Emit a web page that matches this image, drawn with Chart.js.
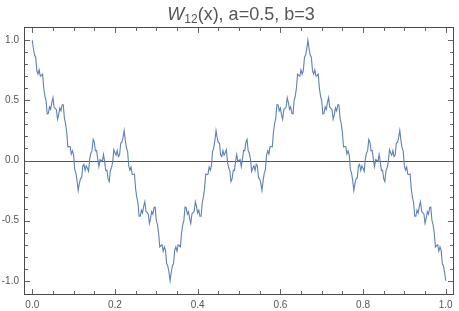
<!DOCTYPE html>
<html>

<head>
    <script src="https://cdn.jsdelivr.net/npm/chart.js@4.4.2/dist/chart.umd.min.js"></script>
    <style>
        html, body { margin: 0; padding: 0; background: #fff; }
    </style>
</head>

<body>
    <div style="position:relative; width:459px; height:311px">
        <canvas id="chart"></canvas>
    </div>
</body>
<script>
    // W12(x), 361 samples from x=0 to x=1, split in thirds
    const firstThird = [
        1.000, 0.929, 0.877, 0.857, 0.746, 0.719, 0.755, 0.702, 0.707, 0.718,
        0.601, 0.536, 0.498, 0.388, 0.392, 0.446, 0.425, 0.481, 0.522, 0.444,
        0.433, 0.422, 0.343, 0.382, 0.436, 0.413, 0.464, 0.464, 0.349, 0.306,
        0.236, 0.112, 0.116, 0.114, 0.054, 0.081, 0.045, -0.076, -0.105, -0.167,
        -0.250, -0.190, -0.150, -0.144, -0.046, -0.032, -0.082, -0.044, -0.064, -0.090,
        0.012, 0.060, 0.082, 0.175, 0.153, 0.081, 0.084, 0.009, -0.050, 0.008,
        0.000, -0.008, 0.050, -0.009, -0.084, -0.081, -0.153, -0.175, -0.082, -0.060,
        -0.012, 0.090, 0.064, 0.044, 0.082, 0.032, 0.046, 0.144, 0.150, 0.190,
        0.250, 0.167, 0.105, 0.076, -0.045, -0.081, -0.054, -0.114, -0.116, -0.112,
        -0.236, -0.306, -0.349, -0.464, -0.464, -0.413, -0.436, -0.382, -0.343, -0.422,
        -0.433, -0.444, -0.522, -0.481, -0.425, -0.446, -0.392, -0.388, -0.498, -0.536,
        -0.601, -0.718, -0.707, -0.702, -0.755, -0.719, -0.746, -0.857, -0.877, -0.929,
        -1.000
    ];
    const middleThird = [
        -0.929, -0.877, -0.857, -0.746, -0.719, -0.755, -0.702, -0.707, -0.718, -0.601,
        -0.536, -0.498, -0.388, -0.392, -0.446, -0.425, -0.481, -0.522, -0.444, -0.433,
        -0.422, -0.343, -0.382, -0.436, -0.413, -0.464, -0.464, -0.349, -0.306, -0.236,
        -0.112, -0.116, -0.114, -0.054, -0.081, -0.045, 0.076, 0.105, 0.167, 0.250,
        0.190, 0.150, 0.144, 0.046, 0.032, 0.082, 0.044, 0.064, 0.090, -0.012,
        -0.060, -0.082, -0.175, -0.153, -0.081, -0.084, -0.009, 0.050, -0.008, 0.000,
        0.008, -0.050, 0.009, 0.084, 0.081, 0.153, 0.175, 0.082, 0.060, 0.012,
        -0.090, -0.064, -0.044, -0.082, -0.032, -0.046, -0.144, -0.150, -0.190, -0.250,
        -0.167, -0.105, -0.076, 0.045, 0.081, 0.054, 0.114, 0.116, 0.112, 0.236,
        0.306, 0.349, 0.464, 0.464, 0.413, 0.436, 0.382, 0.343, 0.422, 0.433,
        0.444, 0.522, 0.481, 0.425, 0.446, 0.392, 0.388, 0.498, 0.536, 0.601,
        0.718, 0.707, 0.702, 0.755, 0.719, 0.746, 0.857, 0.877, 0.929, 1.000
    ];
    const lastThird = [
        0.929, 0.877, 0.857, 0.746, 0.719, 0.755, 0.702, 0.707, 0.718, 0.601,
        0.536, 0.498, 0.388, 0.392, 0.446, 0.425, 0.481, 0.522, 0.444, 0.433,
        0.422, 0.343, 0.382, 0.436, 0.413, 0.464, 0.464, 0.349, 0.306, 0.236,
        0.112, 0.116, 0.114, 0.054, 0.081, 0.045, -0.076, -0.105, -0.167, -0.250,
        -0.190, -0.150, -0.144, -0.046, -0.032, -0.082, -0.044, -0.064, -0.090, 0.012,
        0.060, 0.082, 0.175, 0.153, 0.081, 0.084, 0.009, -0.050, 0.008, 0.000,
        -0.008, 0.050, -0.009, -0.084, -0.081, -0.153, -0.175, -0.082, -0.060, -0.012,
        0.090, 0.064, 0.044, 0.082, 0.032, 0.046, 0.144, 0.150, 0.190, 0.250,
        0.167, 0.105, 0.076, -0.045, -0.081, -0.054, -0.114, -0.116, -0.112, -0.236,
        -0.306, -0.349, -0.464, -0.464, -0.413, -0.436, -0.382, -0.343, -0.422, -0.433,
        -0.444, -0.522, -0.481, -0.425, -0.446, -0.392, -0.388, -0.498, -0.536, -0.601,
        -0.718, -0.707, -0.702, -0.755, -0.719, -0.746, -0.857, -0.877, -0.929, -1.000
    ];

    const xStart = 0;
    const xEnd = 1;

    const xTicks = [0, 0.2, 0.4, 0.6, 0.8, 1.0];
    const xMinorTicks = [0.05, 0.1, 0.15, 0.25, 0.3, 0.35, 0.45, 0.5, 0.55, 0.65, 0.7, 0.75, 0.85, 0.9, 0.95];
    const yTicks = [-1.0, -0.5, 0.0, 0.5, 1.0];
    const yMinorTicks = [-0.9, -0.8, -0.7, -0.6, -0.4, -0.3, -0.2, -0.1, 0.1, 0.2, 0.3, 0.4, 0.6, 0.7, 0.8, 0.9];

    const values = firstThird.concat(middleThird, lastThird);
    const points = values.map((y, i) => ({ x: xStart + i * (xEnd - xStart) / (values.length - 1), y: y }));

    const FONT = '"Liberation Sans", Arial, sans-serif';

    // everything non-data is drawn after the chart: zero axis, frame, inward ticks, title
    const framePlugin = {
        id: 'frame',
        afterDraw(chart) {
            const { ctx, chartArea: a, scales } = chart;
            ctx.save();
            const left = Math.round(a.left);
            const right = Math.round(a.right) - 1;
            const top = Math.round(a.top);
            const bottom = Math.round(a.bottom);

            // frame
            ctx.fillStyle = '#4a4a4a';
            ctx.fillRect(left, top, right - left + 1, 1);
            ctx.fillRect(left, bottom, right - left + 1, 1);
            ctx.fillRect(left, top, 1, bottom - top + 1);
            ctx.fillRect(right, top, 1, bottom - top + 1);

            // inward ticks on all four sides
            ctx.fillStyle = '#666';
            for (const v of xTicks) {
                const px = Math.round(scales.x.getPixelForValue(v));
                ctx.fillRect(px, bottom - 5, 1, 5);
                ctx.fillRect(px, top + 1, 1, 5);
            }
            for (const v of xMinorTicks) {
                const px = Math.round(scales.x.getPixelForValue(v));
                ctx.fillRect(px, bottom - 3, 1, 3);
                ctx.fillRect(px, top + 1, 1, 3);
            }
            for (const v of yTicks) {
                const py = Math.round(scales.y.getPixelForValue(v));
                ctx.fillRect(left + 1, py, 5, 1);
                ctx.fillRect(right - 5, py, 5, 1);
            }
            for (const v of yMinorTicks) {
                const py = Math.round(scales.y.getPixelForValue(v));
                ctx.fillRect(left + 1, py, 3, 1);
                ctx.fillRect(right - 3, py, 3, 1);
            }

            // title: W (italic) with subscript 12, then "(x), a=0.5, b=3"
            ctx.fillStyle = '#555';
            ctx.textBaseline = 'alphabetic';
            const base = 20;
            const parts = [
                { text: 'W', font: 'italic 18px ' + FONT, dy: 0 },
                { text: '12', font: '12px ' + FONT, dy: 3 },
                { text: '(x), a=0.5, b=3', font: '18px ' + FONT, dy: 0 }
            ];
            let total = 0;
            for (const p of parts) { ctx.font = p.font; p.w = ctx.measureText(p.text).width; total += p.w; }
            let x = (a.left + a.right) / 2 - total / 2 + 2;
            for (const p of parts) {
                ctx.font = p.font;
                ctx.fillText(p.text, x, base + p.dy);
                x += p.w;
            }
            ctx.restore();
        }
    };

    // the zero axis sits under the curve
    const zeroLinePlugin = {
        id: 'zeroLine',
        beforeDatasetsDraw(chart) {
            const { ctx, chartArea: a, scales } = chart;
            const y0 = Math.round(scales.y.getPixelForValue(0));
            ctx.save();
            ctx.fillStyle = '#555';
            ctx.fillRect(a.left, y0, a.right - a.left, 1);
            ctx.restore();
        }
    };

    const data = {
        datasets: [
            {
                label: 'W12',
                data: points,
                borderColor: '#5E81B5',
                borderWidth: 1.1,
                pointRadius: 0,
                tension: 0,
                fill: false
            }
        ]
    };

    const config = {
        type: 'line',
        data: data,
        options: {
            responsive: true,
            maintainAspectRatio: false,
            animation: false,
            layout: {
                padding: { top: 27, right: 5, left: 0, bottom: 0 }
            },
            plugins: {
                legend: { display: false },
                tooltip: { enabled: false }
            },
            scales: {
                x: {
                    type: 'linear',
                    min: -0.02,
                    max: 1.02,
                    grid: { display: false, drawTicks: false, tickLength: 0 },
                    border: { display: false },
                    afterFit: (s) => { s.height = 17; },
                    afterBuildTicks: (s) => { s.ticks = xTicks.map(v => ({ value: v })); },
                    ticks: {
                        padding: 5,
                        maxRotation: 0,
                        color: '#555',
                        font: { family: FONT, size: 10 },
                        callback: (v) => Number(v).toFixed(1)
                    }
                },
                y: {
                    type: 'linear',
                    min: -1.11,
                    max: 1.11,
                    grid: { display: false, drawTicks: false, tickLength: 0 },
                    border: { display: false },
                    afterFit: (s) => { s.width = 24; },
                    afterBuildTicks: (s) => { s.ticks = yTicks.map(v => ({ value: v })); },
                    ticks: {
                        padding: 5,
                        color: '#555',
                        font: { family: FONT, size: 10 },
                        callback: (v) => Number(v).toFixed(1)
                    }
                }
            }
        },
        plugins: [zeroLinePlugin, framePlugin]
    };

    const chart = new Chart(document.getElementById('chart'), config);
</script>

</html>
